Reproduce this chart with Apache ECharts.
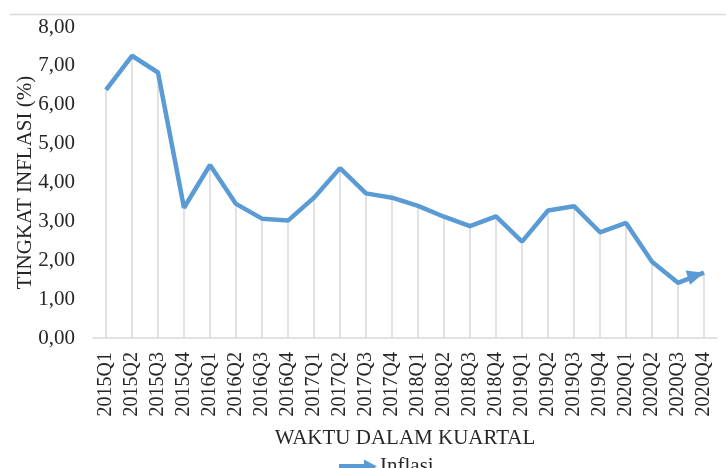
<!DOCTYPE html>
<html lang="id">
<head>
    <meta charset="UTF-8">
    <title>Tingkat Inflasi</title>
    <script src="https://cdn.jsdelivr.net/npm/echarts@6.0.0/dist/echarts.min.js"></script>
    <style>
        body { margin: 0; padding: 0; background: #fff; }
        #chart { width: 726px; height: 468px; }
    </style>
</head>
<body>
    <div id="chart"></div>
    <script>
        // data kuartalan
        var quarters = ['2015Q1','2015Q2','2015Q3','2015Q4','2016Q1','2016Q2','2016Q3','2016Q4',
            '2017Q1','2017Q2','2017Q3','2017Q4','2018Q1','2018Q2','2018Q3','2018Q4',
            '2019Q1','2019Q2','2019Q3','2019Q4','2020Q1','2020Q2','2020Q3','2020Q4'];
        var inflasi = [6.38, 7.26, 6.83, 3.35, 4.45, 3.45, 3.07, 3.02,
            3.61, 4.37, 3.72, 3.61, 3.40, 3.12, 2.88, 3.13,
            2.48, 3.28, 3.39, 2.72, 2.96, 1.96, 1.42, 1.68];
        var yTicks = [0, 1, 2, 3, 4, 5, 6, 7, 8];

        var serif = '"Liberation Serif", "Times New Roman", serif';
        var blue = '#5B9BD5';
        var ink = '#262626';

        // titik terakhir diberi kepala panah
        var lineData = inflasi.map(function (v, i) {
            if (i < inflasi.length - 1) return v;
            return {
                value: v,
                symbol: 'triangle',
                symbolSize: [15, 17],
                symbolRotate: -73,
                symbolOffset: [-8, 2.5],
                itemStyle: { color: blue }
            };
        });

        var chart = echarts.init(document.getElementById('chart'));
        chart.setOption({
            animation: false,
            textStyle: { fontFamily: serif },
            graphic: [{
                type: 'line',
                shape: { x1: 10, y1: 14.5, x2: 726, y2: 14.5 },
                style: { stroke: '#d9d9d9', lineWidth: 1.5 }
            }],
            grid: { left: 93, right: 9, top: 27, bottom: 130, outerBoundsMode: 'none' },
            legend: {
                data: ['Inflasi'],
                top: 451,
                left: 334,
                itemWidth: 38,
                itemHeight: 14,
                itemGap: 5,
                icon: 'path://M0,4.5 L25,4.5 L25,0 L38,7 L25,14 L25,9.5 L0,9.5 Z',
                textStyle: { fontFamily: serif, fontSize: 21, color: ink, padding: [0, 0, 0, -2] }
            },
            xAxis: {
                type: 'category',
                data: quarters,
                boundaryGap: true,
                name: 'WAKTU DALAM KUARTAL',
                nameLocation: 'middle',
                nameGap: 90,
                nameMoveOverlap: false,
                nameTextStyle: { fontFamily: serif, fontSize: 21, color: ink },
                axisLine: { lineStyle: { color: '#d9d9d9', width: 1.5 } },
                axisTick: { show: false },
                axisLabel: {
                    rotate: 90,
                    margin: 14,
                    fontFamily: serif,
                    fontSize: 20,
                    color: ink,
                    interval: 0
                },
                splitLine: { show: false }
            },
            yAxis: {
                type: 'value',
                min: yTicks[0],
                max: yTicks[yTicks.length - 1],
                interval: 1,
                name: 'TINGKAT INFLASI (%)',
                nameLocation: 'middle',
                nameGap: 57,
                nameMoveOverlap: false,
                nameRotate: 90,
                nameTextStyle: { fontFamily: serif, fontSize: 21, color: ink },
                axisLine: { show: false },
                axisTick: { show: false },
                splitLine: { show: false },
                axisLabel: {
                    margin: 18,
                    fontFamily: serif,
                    fontSize: 21,
                    color: ink,
                    formatter: function (v) { return v.toFixed(2).replace('.', ','); }
                }
            },
            series: [
                {
                    // garis jatuh dari tiap titik ke sumbu
                    name: 'drop',
                    type: 'bar',
                    data: inflasi,
                    barWidth: 1.5,
                    itemStyle: { color: '#d9d9d9' },
                    silent: true,
                    z: 1
                },
                {
                    name: 'Inflasi',
                    type: 'line',
                    data: lineData,
                    symbol: 'none',
                    showSymbol: true,
                    lineStyle: { color: blue, width: 4.5 },
                    itemStyle: { color: blue },
                    z: 3
                }
            ]
        });
    </script>
</body>
</html>
